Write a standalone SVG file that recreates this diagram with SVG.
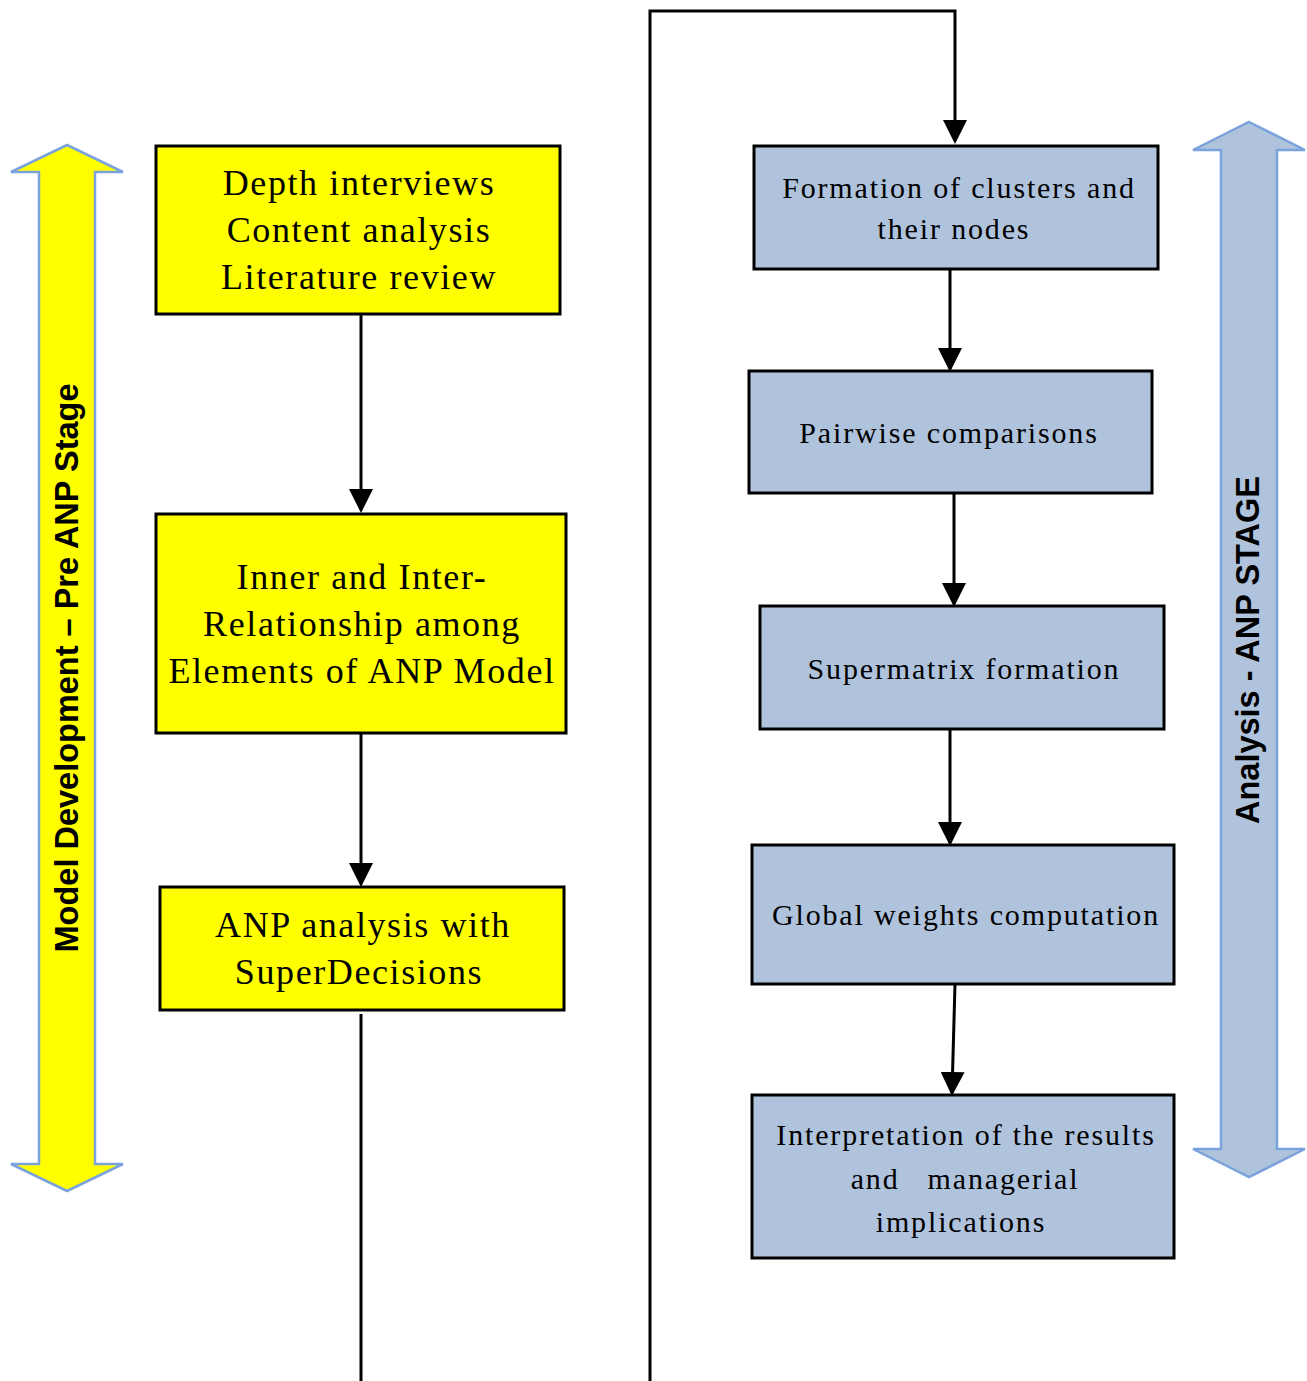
<svg xmlns="http://www.w3.org/2000/svg" width="1307" height="1381" viewBox="0 0 1307 1381">
<style>
.y{fill:#ffff00;stroke:#000;stroke-width:3}
.b{fill:#b0c3dd;stroke:#000;stroke-width:3}
.t{font-family:"Liberation Serif","Times New Roman",serif;font-size:36px;letter-spacing:1.6px;fill:#000;text-anchor:middle}
.s{font-family:"Liberation Serif","Times New Roman",serif;font-size:30px;letter-spacing:1.85px;fill:#000;text-anchor:middle}
.v{font-family:"Liberation Sans",Arial,sans-serif;font-size:32.5px;font-weight:bold;fill:#000;text-anchor:middle}
.c{fill:none;stroke:#000;stroke-width:3}
</style>
<defs>
<marker id="ah" markerWidth="8" markerHeight="8" refX="7" refY="4" orient="auto" markerUnits="strokeWidth">
<path d="M0,0 L8,4 L0,8 Z" fill="#000"/>
</marker>
</defs>
<rect width="1307" height="1381" fill="#fff"/>
<g id="stage-left">
<path d="M67,145 L123,172 L95,172 L95,1164 L123,1164 L67,1191 L11,1164 L39,1164 L39,172 L11,172 Z" fill="#ffff00" stroke="#7aa2dc" stroke-width="2.5" stroke-linejoin="miter"/>
<text class="v" transform="translate(78,668) rotate(-90)">Model Development – Pre ANP Stage</text>
</g>
<g id="stage-right">
<path d="M1249,122 L1305,150 L1277,150 L1277,1149 L1305,1149 L1249,1177 L1193,1149 L1221,1149 L1221,150 L1193,150 Z" fill="#b0c3dd" stroke="#7aa2dc" stroke-width="2.5"/>
<text class="v" transform="translate(1259,650) rotate(-90)">Analysis - ANP STAGE</text>
</g>
<g id="connectors">
<line class="c" x1="361" y1="314" x2="361" y2="510" marker-end="url(#ah)"/>
<line class="c" x1="361" y1="733" x2="361" y2="884" marker-end="url(#ah)"/>
<polyline class="c" points="361,1014 361,1381"/>
<polyline class="c" points="650,1381 650,11 955,11 955,141" marker-end="url(#ah)"/>
<line class="c" x1="950" y1="269" x2="950" y2="369" marker-end="url(#ah)"/>
<line class="c" x1="954" y1="493" x2="954" y2="604" marker-end="url(#ah)"/>
<line class="c" x1="950" y1="729" x2="950" y2="843" marker-end="url(#ah)"/>
<line class="c" x1="955" y1="984" x2="952" y2="1093" marker-end="url(#ah)"/>
</g>
<g id="n1"><rect class="y" x="156" y="146" width="404" height="168"/>
<text class="t" x="359" y="195">Depth interviews</text>
<text class="t" x="359" y="242">Content analysis</text>
<text class="t" x="359" y="289">Literature review</text></g>
<g id="n2"><rect class="y" x="156" y="514" width="410" height="219"/>
<text class="t" x="362" y="589">Inner and Inter-</text>
<text class="t" x="362" y="636">Relationship among</text>
<text class="t" x="362" y="683">Elements of ANP Model</text></g>
<g id="n3"><rect class="y" x="160" y="887" width="404" height="123"/>
<text class="t" x="363" y="937">ANP analysis with</text>
<text class="t" x="359" y="984">SuperDecisions</text></g>
<g id="n4"><rect class="b" x="754" y="146" width="404" height="123"/>
<text class="s" x="959" y="198">Formation of clusters and</text>
<text class="s" x="954" y="239">their nodes</text></g>
<g id="n5"><rect class="b" x="749" y="371" width="403" height="122"/>
<text class="s" x="949" y="443">Pairwise comparisons</text></g>
<g id="n6"><rect class="b" x="760" y="606" width="404" height="123"/>
<text class="s" x="964" y="679">Supermatrix formation</text></g>
<g id="n7"><rect class="b" x="752" y="845" width="422" height="139"/>
<text class="s" x="966" y="925">Global weights computation</text></g>
<g id="n8"><rect class="b" x="752" y="1095" width="422" height="163"/>
<text class="s" x="966" y="1145">Interpretation of the results</text>
<text class="s" x="965" y="1189" xml:space="preserve">and   managerial</text>
<text class="s" x="961" y="1232">implications</text></g>
</svg>
